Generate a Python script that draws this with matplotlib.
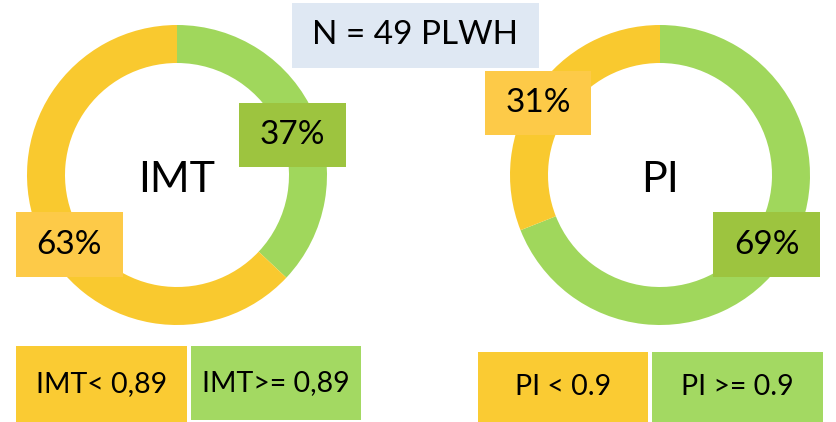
import matplotlib
matplotlib.use('Agg')
import matplotlib.pyplot as plt
from matplotlib.patches import Rectangle

plt.rcParams['font.family'] = ['Lato', 'DejaVu Sans']

# share of patients on each side of the cut-off
imt_labels = ['IMT>= 0,89', 'IMT< 0,89']
imt_values = [37, 63]
pi_labels = ['PI >= 0.9', 'PI < 0.9']
pi_values = [69, 31]
n_patients = 49

ring_green = '#A0D75C'
ring_yellow = '#F9C92F'
tag_green = '#9DC43F'
tag_yellow = '#FDCA48'
leg_green = '#A3D962'
leg_yellow = '#FACB33'

W, H = 836, 422
fig = plt.figure(figsize=(W / 100, H / 100), dpi=100)
ax = fig.add_axes([0, 0, 1, 1])


def box(x0, y0, x1, y1, color, text, size):
    # boxes are given in top-down pixel coords
    ax.add_patch(Rectangle((x0, H - y1), x1 - x0, y1 - y0, color=color, lw=0, zorder=3))
    ax.text((x0 + x1) / 2, H - (y0 + y1) / 2, text, ha='center', va='center',
            fontsize=size, color='black', zorder=4)


# IMT donut: green runs clockwise from the top
ax.pie(imt_values, colors=[ring_green, ring_yellow], startangle=90, counterclock=False,
       radius=150, center=(177, H - 175), wedgeprops=dict(width=38, linewidth=0))
ax.text(177, H - 180, 'IMT', ha='center', va='center', fontsize=31)

# PI donut: yellow runs counter-clockwise from the top
ax.pie(pi_values, colors=[ring_green, ring_yellow], startangle=90, counterclock=False,
       radius=150, center=(660, H - 175), wedgeprops=dict(width=38, linewidth=0))
ax.text(660, H - 180, 'PI', ha='center', va='center', fontsize=31)

box(239, 103, 346, 167, tag_green, f'{imt_values[0]}%', 24)
box(16, 212, 123, 277, tag_yellow, f'{imt_values[1]}%', 24)
box(485, 71, 591, 135, tag_yellow, f'{pi_values[1]}%', 24)
box(713, 212, 820, 277, tag_green, f'{pi_values[0]}%', 24)

box(292, 3, 539, 68, '#DFE8F3', f'N = {n_patients} PLWH', 24)

box(16, 346, 187, 422, leg_yellow, imt_labels[1], 20.5)
box(191, 346, 361, 420, leg_green, imt_labels[0], 20.5)
box(478, 352, 648, 422, leg_yellow, pi_labels[1], 20.5)
box(652, 352, 823, 422, leg_green, pi_labels[0], 20.5)

ax.set_xlim(0, W)
ax.set_ylim(0, H)
ax.set_aspect('auto')
ax.axis('off')

fig.savefig('out.png', dpi=100, facecolor='white')
